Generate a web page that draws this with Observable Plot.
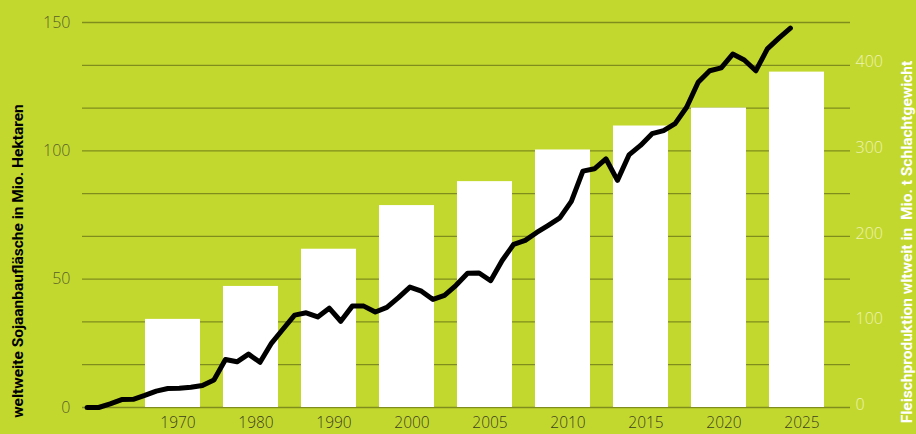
<!DOCTYPE html>
<html>
<head>
<meta charset="utf-8">
<script src="https://cdn.jsdelivr.net/npm/d3@7"></script>
<script src="https://cdn.jsdelivr.net/npm/@observablehq/plot@0.6"></script>
<style>
html, body { margin: 0; padding: 0; background: #c3d82f; }
#wrap { position: relative; width: 916px; height: 434px; overflow: hidden; background: #c3d82f; }
#wrap svg { position: absolute; left: 0; top: 0; }
#wrap svg text { white-space: pre; }
</style>
</head>
<body>
<div id="wrap"></div>
<script>
// Bars: world meat production (right axis, Mio. t)
const barCategories = ["1970", "1980", "1990", "2000", "2005", "2010", "2015", "2020", "2025"];
const meatValues = [103, 141.5, 185, 236, 264, 301, 329, 350, 392];

// Line: soybean area (left axis, Mio. ha)
const soyYears = [1961, 1962, 1963, 1964, 1965, 1966, 1967, 1968, 1969, 1970,
  1971, 1972, 1973, 1974, 1975, 1976, 1977, 1978, 1979, 1980,
  1981, 1982, 1983, 1984, 1985, 1986, 1987, 1988, 1989, 1990,
  1991, 1992, 1993, 1994, 1995, 1996, 1997, 1998, 1999, 2000,
  2001, 2002, 2003, 2004, 2005, 2006, 2007, 2008, 2009, 2010,
  2011, 2012, 2013, 2014, 2015, 2016, 2017, 2018, 2019, 2020,
  2021, 2022];
const soyArea = [0, 0, 1.4, 3.1, 3.2, 4.7, 6.4, 7.4, 7.5, 7.9,
  8.6, 10.7, 18.7, 17.8, 20.8, 17.6, 25.1, 30.6, 36.0, 36.9,
  35.3, 38.7, 33.6, 39.5, 39.5, 37.2, 39.0, 42.8, 46.9, 45.3,
  42.1, 43.7, 47.6, 52.3, 52.4, 49.4, 57.3, 63.6, 65.1, 68.2,
  71.0, 73.9, 80.3, 92.1, 93.0, 96.9, 88.5, 98.4, 102.1, 106.7,
  107.9, 110.6, 117.0, 126.7, 131.2, 132.3, 137.7, 135.4, 131.2, 139.7,
  143.9, 147.8];

// Axis ticks
const leftTicks = [0, 50, 100, 150];
const rightTicks = [0, 100, 200, 300, 400];
const gridTicks = [0, 50, 100, 150, 200, 250, 300, 350, 400, 450];

const leftTitle = "weltweite Sojaanbaufläsche in Mio. Hektaren";
const rightTitle = "Fleischproduktion wltweit in  Mio. t Schlachtgewicht";

const bars = barCategories.map((c, i) => ({cat: c, value: meatValues[i]}));
const soy = soyYears.map((y, i) => ({year: y, area: soyArea[i]}));

const W = 916, H = 434;
const common = {
  width: W, height: H,
  marginLeft: 82, marginRight: 66, marginTop: 22, marginBottom: 27,
  style: {background: "transparent", fontFamily: "'Open Sans', sans-serif", overflow: "visible"}
};
const titleFont = "'Liberation Sans Narrow', 'Roboto', sans-serif";

const barsPlot = Plot.plot({
  ...common,
  x: {type: "band", domain: barCategories, range: [119, 851], paddingInner: 0.29, paddingOuter: 0.29},
  y: {domain: [0, 450]},
  marks: [
    Plot.ruleY(gridTicks, {stroke: "#7f8d1c", strokeWidth: 1.3}),
    Plot.barY(bars, {x: "cat", y: "value", fill: "white"}),
    Plot.axisX({tickSize: 0, tickPadding: 9, fontSize: 15.5, fill: "#3c4020", dx: 5, label: null, fontWeight: 300}),
    Plot.axisY(rightTicks, {anchor: "right", tickSize: 0, tickPadding: 5, dy: -3, fontSize: 16, fill: "#eef3b3", label: null, fontWeight: 300}),
    Plot.text([rightTitle], {text: d => d, frameAnchor: "right", textAnchor: "middle", rotate: -90, dx: 57, dy: 27,
      fontSize: 15.5, fontWeight: "bold", fontFamily: titleFont, fill: "white"})
  ]
});

const linePlot = Plot.plot({
  ...common,
  x: {type: "linear", domain: [1961, 2022], range: [86.6, 789.9], axis: null},
  y: {domain: [0, 150]},
  marks: [
    Plot.line(soy, {x: "year", y: "area", stroke: "black", strokeWidth: 5}),
    Plot.axisY(leftTicks, {anchor: "left", tickSize: 0, tickPadding: 12, fontSize: 16, fill: "#575f27", label: null, fontWeight: 300}),
    Plot.text([leftTitle], {text: d => d, frameAnchor: "left", textAnchor: "middle", rotate: -90, dx: -64, dy: 46,
      fontSize: 15.5, fontWeight: "bold", fontFamily: titleFont, fill: "black"})
  ]
});

const wrap = document.getElementById("wrap");
wrap.appendChild(barsPlot);
wrap.appendChild(linePlot);
</script>
</body>
</html>
